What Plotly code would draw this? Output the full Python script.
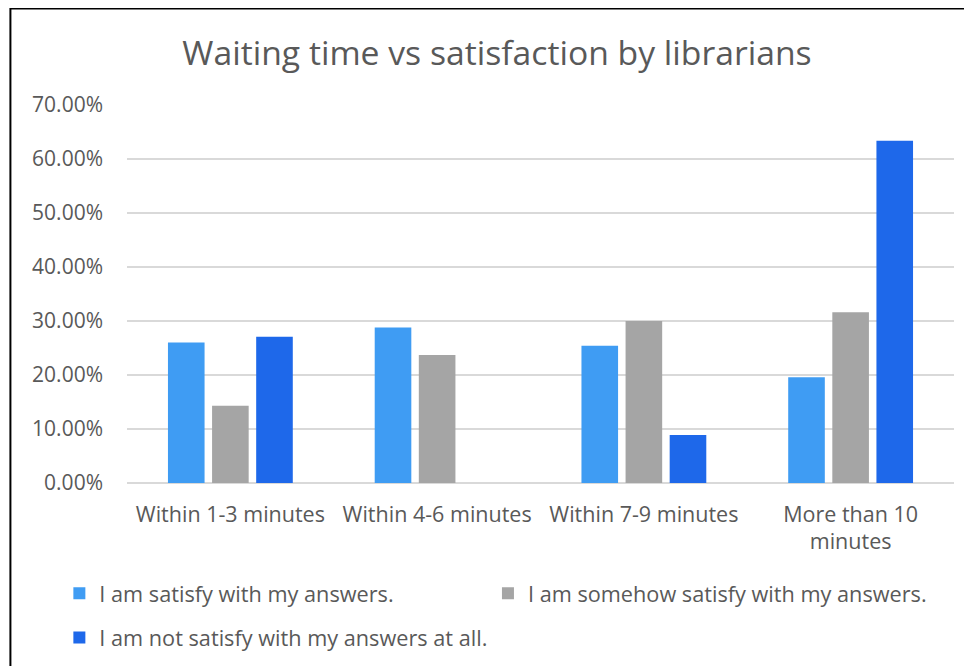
import plotly.graph_objects as go

categories = ["Within 1-3 minutes", "Within 4-6 minutes", "Within 7-9 minutes", "More than 10<br>minutes"]
satisfied = [0.260, 0.288, 0.254, 0.196]
somehow = [0.143, 0.237, 0.300, 0.316]
not_satisfied = [0.271, 0.0, 0.089, 0.634]
series_names = ["I am satisfy with my answers.",
                "I am somehow satisfy with my answers.",
                "I am not satisfy with my answers at all."]
colors = ["#3f9cf3", "#a5a5a5", "#1e68ea"]

# page body margin offset (8px) is compensated: screen coords -> figure coords
OFF = 8
W, H = 972 - OFF, 666 - OFF
L, R = 126.7 - OFF, 954.5 - OFF
T, B = 105 - OFF, 483.3 - OFF
pw, ph = R - L, B - T

def px(sx):
    return (sx - OFF - L) / pw

def py(sy):
    return (B - (sy - OFF)) / ph

font = "Open Sans, sans-serif"
txt = "#595959"

fig = go.Figure()
legends = ["legend", "legend2", "legend"]
for i, (vals, name) in enumerate(zip([satisfied, somehow, not_satisfied], series_names)):
    fig.add_trace(go.Bar(
        x=categories, y=vals, name=name,
        marker=dict(color=colors[i], line=dict(width=0)),
        legend=legends[i], legendgroup=str(i),
    ))

fig.update_layout(
    width=W, height=H,
    margin=dict(l=L, r=W - R, t=T, b=H - B, autoexpand=False),
    paper_bgcolor="white", plot_bgcolor="white",
    barmode="group", bargap=0.36, bargroupgap=0.17,
    title=dict(text="Waiting time vs satisfaction by librarians",
               x=(497 - OFF) / W, xref="container", xanchor="center",
               y=1 - (53 - OFF) / H, yref="container", yanchor="middle",
               font=dict(family=font, size=33.7, color=txt)),
    font=dict(family=font, size=21, color=txt),
    yaxis=dict(range=[0, 0.70], dtick=0.10, tickformat=".2%",
               showgrid=True, gridcolor="#d9d9d9", gridwidth=1.5,
               zeroline=True, zerolinecolor="#d9d9d9", zerolinewidth=1.5,
               showline=False, ticks="", ticklabelstandoff=23,
               tickfont=dict(family=font, size=21, color=txt)),
    xaxis=dict(showgrid=False, showline=False, ticks="", ticklabelstandoff=16,
               tickfont=dict(family=font, size=21.5, color=txt)),
    legend=dict(x=px(59), xanchor="left", y=py(573), yanchor="top",
                orientation="v", tracegroupgap=13,
                font=dict(family=font, size=21.7, color=txt),
                bgcolor="rgba(0,0,0,0)"),
    legend2=dict(x=px(488), xanchor="left", y=py(573), yanchor="top",
                 orientation="v",
                 font=dict(family=font, size=21.7, color=txt),
                 bgcolor="rgba(0,0,0,0)"),
    shapes=[dict(type="rect", xref="paper", yref="paper",
                 x0=px(10), x1=px(990), y0=py(690), y1=py(8.5),
                 line=dict(color="black", width=2), layer="above")],
)

fig.write_html("out.html")
